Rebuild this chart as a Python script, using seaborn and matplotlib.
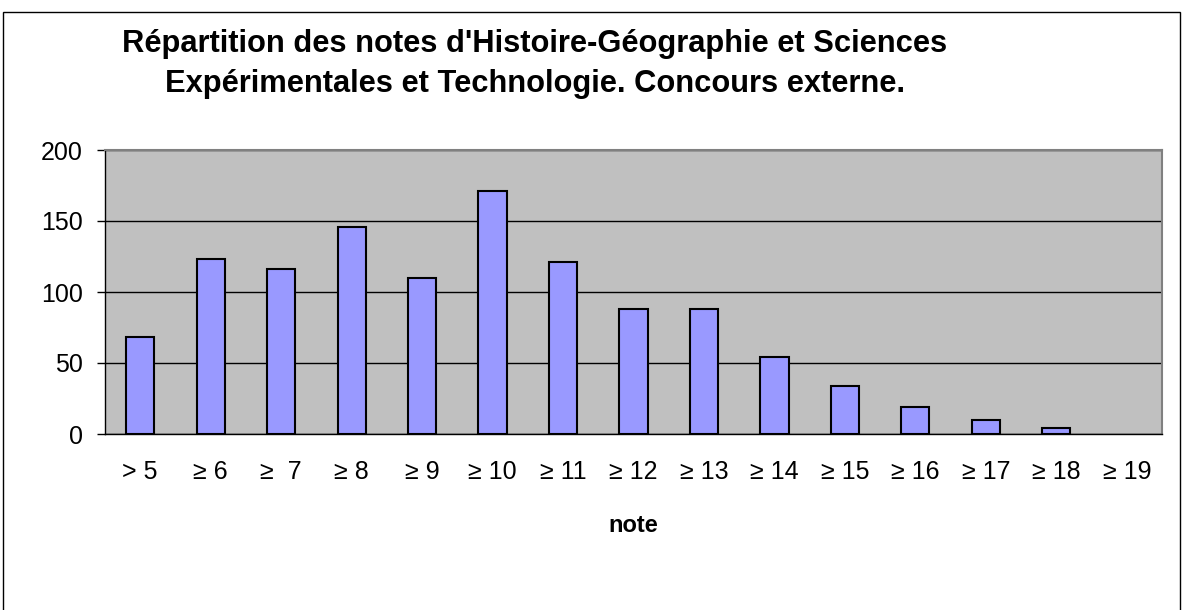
import matplotlib
matplotlib.use("Agg")
import matplotlib.pyplot as plt
import seaborn as sns
import pandas as pd
from matplotlib.patches import Rectangle

categories = ["> 5", "≥ 6", "≥  7", "≥ 8", "≥ 9", "≥ 10", "≥ 11", "≥ 12",
              "≥ 13", "≥ 14", "≥ 15", "≥ 16", "≥ 17", "≥ 18", "≥ 19"]
counts = [68, 123, 116, 146, 110, 171, 121, 88, 88, 54, 34, 19, 10, 4, 0]
yticks = [0, 50, 100, 150, 200]
title = "Répartition des notes d'Histoire-Géographie et Sciences\nExpérimentales et Technologie. Concours externe."
xlabel = "note"

sns.set_theme(style="white")
plt.rcParams['font.family'] = ['Liberation Sans', 'DejaVu Sans']
plt.rcParams['text.color'] = 'black'
plt.rcParams['xtick.color'] = 'black'
plt.rcParams['ytick.color'] = 'black'

W, H = 1182, 610
fig = plt.figure(figsize=(W / 100, H / 100), dpi=100)
fig.patch.set_facecolor("white")

l, r, t, b = 105, 1162, 150, 434
ax = fig.add_axes([l / W, 1 - b / H, (r - l) / W, (b - t) / H])

df = pd.DataFrame({"note": categories, "n": counts})
sns.barplot(data=df, x="note", y="n", ax=ax, color="#9999FF", saturation=1,
            edgecolor="black", linewidth=1.5, width=0.4, zorder=3)
for p in ax.patches:
    if p.get_height() == 0:
        p.set_visible(False)

ax.set_facecolor("#C0C0C0")
ax.set_ylim(0, 200)
ax.set_xlim(-0.5, len(categories) - 0.5)
ax.set_yticks(yticks)
ax.set_yticklabels([str(v) for v in yticks], fontsize=18)
ax.yaxis.grid(True, color="black", linewidth=1, zorder=1)
ax.xaxis.grid(False)
ax.set_axisbelow(True)

ax.set_xticks(range(len(categories)))
ax.set_xticklabels(categories, fontsize=18)
ax.tick_params(axis="x", which="major", length=0, pad=19)
ax.set_xticks([i - 0.5 for i in range(len(categories) + 1)], minor=True)
ax.tick_params(axis="x", which="minor", length=6.5, width=1, color="black", direction="out")
ax.tick_params(axis="y", which="major", length=6, width=1, color="black", direction="out",
               left=True, pad=10)

ax.set_xlabel("")
ax.set_ylabel("")

for s in ["left", "bottom"]:
    ax.spines[s].set_color("black")
    ax.spines[s].set_linewidth(1)
for s in ["top", "right"]:
    ax.spines[s].set_color("#808080")
    ax.spines[s].set_linewidth(1.5)

fig.text(535 / W, 1 - 64 / H, title, ha="center", va="center", fontsize=22.2,
         fontweight="bold", linespacing=1.4)
fig.text(633 / W, 1 - 526 / H, xlabel, ha="center", va="center", fontsize=17,
         fontweight="bold")

fig.patches.append(Rectangle((3 / W, -0.1), (1180 - 3) / W, 1.1 - 12 / H,
                             transform=fig.transFigure, fill=False,
                             edgecolor="black", linewidth=1))

fig.savefig("out.png", dpi=100)
